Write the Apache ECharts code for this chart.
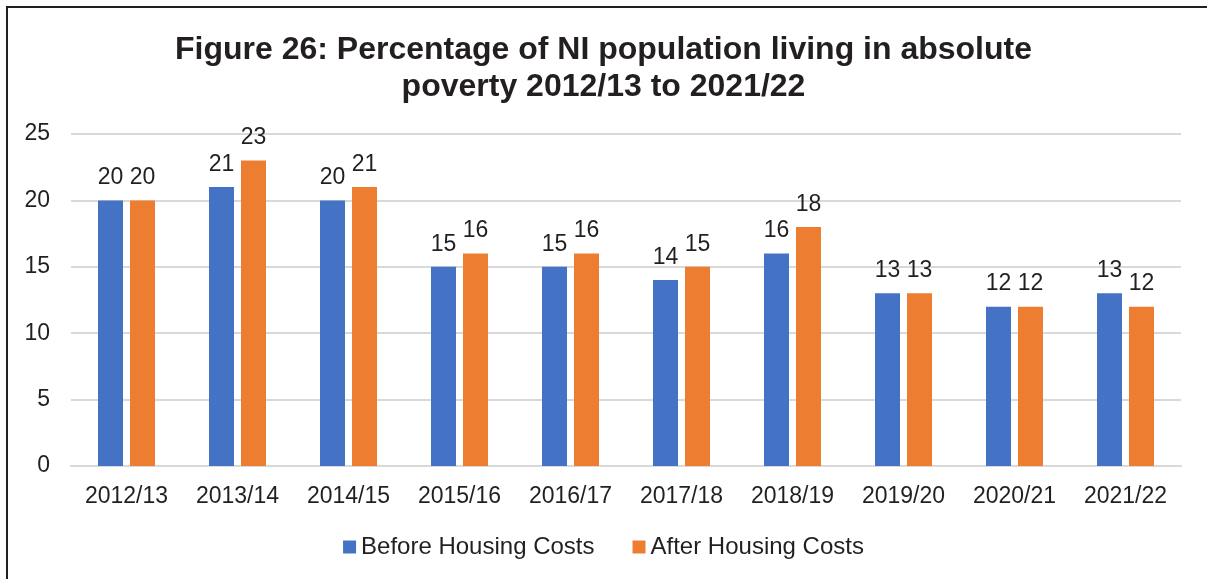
<!DOCTYPE html>
<html><head><meta charset="utf-8">
<script src="https://cdn.jsdelivr.net/npm/echarts@6/dist/echarts.min.js"></script>
<style>
html,body{margin:0;padding:0;background:#fff;}
#c{width:1207px;height:579px;position:relative;}
#frame{position:absolute;left:6px;top:6px;width:1201px;height:573px;border-left:2px solid #231f20;border-top:2px solid #231f20;pointer-events:none;}
</style></head>
<body>
<div id="c"></div><div id="frame"></div>
<script>
const categories = ['2012/13','2013/14','2014/15','2015/16','2016/17','2017/18','2018/19','2019/20','2020/21','2021/22'];
const beforeHC = [20,21,20,15,15,14,16,13,12,13];
const afterHC = [20,23,21,16,16,15,18,13,12,12];
const seriesNames = ['Before Housing Costs','After Housing Costs'];
const titleText = 'Figure 26: Percentage of NI population living in absolute\npoverty 2012/13 to 2021/22';

const chart = echarts.init(document.getElementById('c'));
const font = 'Liberation Sans, Arial, sans-serif';
const lbl = {show:true, position:'top', distance:11, color:'#231f20', fontSize:23, fontFamily:font};
chart.setOption({
  animation:false,
  title:{text:titleText, left:'center', top:27, textStyle:{fontFamily:font, fontSize:32, fontWeight:'bold', color:'#231f20', lineHeight:37}},
  legend:{bottom:15, left:'center', itemWidth:13, itemHeight:13, itemGap:38, icon:'rect',
    textStyle:{fontFamily:font, fontSize:24, color:'#231f20'}},
  grid:{left:71, right:26, top:134, bottom:113},
  xAxis:{type:'category', data:categories,
    axisLine:{lineStyle:{color:'#d9d9d9', width:2}}, axisTick:{show:false},
    axisLabel:{color:'#231f20', fontSize:23, fontFamily:font, margin:19}},
  yAxis:{type:'value', min:0, max:25, interval:5,
    axisLine:{show:false}, axisTick:{show:false},
    splitLine:{lineStyle:{color:'#d9d9d9', width:2}},
    axisLabel:{color:'#231f20', fontSize:23, fontFamily:font, margin:21}},
  series:[
    {name:seriesNames[0], type:'bar', data:beforeHC, barWidth:25, barGap:'28%', itemStyle:{color:'#4472C4'}, label:lbl},
    {name:seriesNames[1], type:'bar', data:afterHC, barWidth:25, itemStyle:{color:'#ED7D31'}, label:lbl}
  ]
});
</script>
</body></html>
